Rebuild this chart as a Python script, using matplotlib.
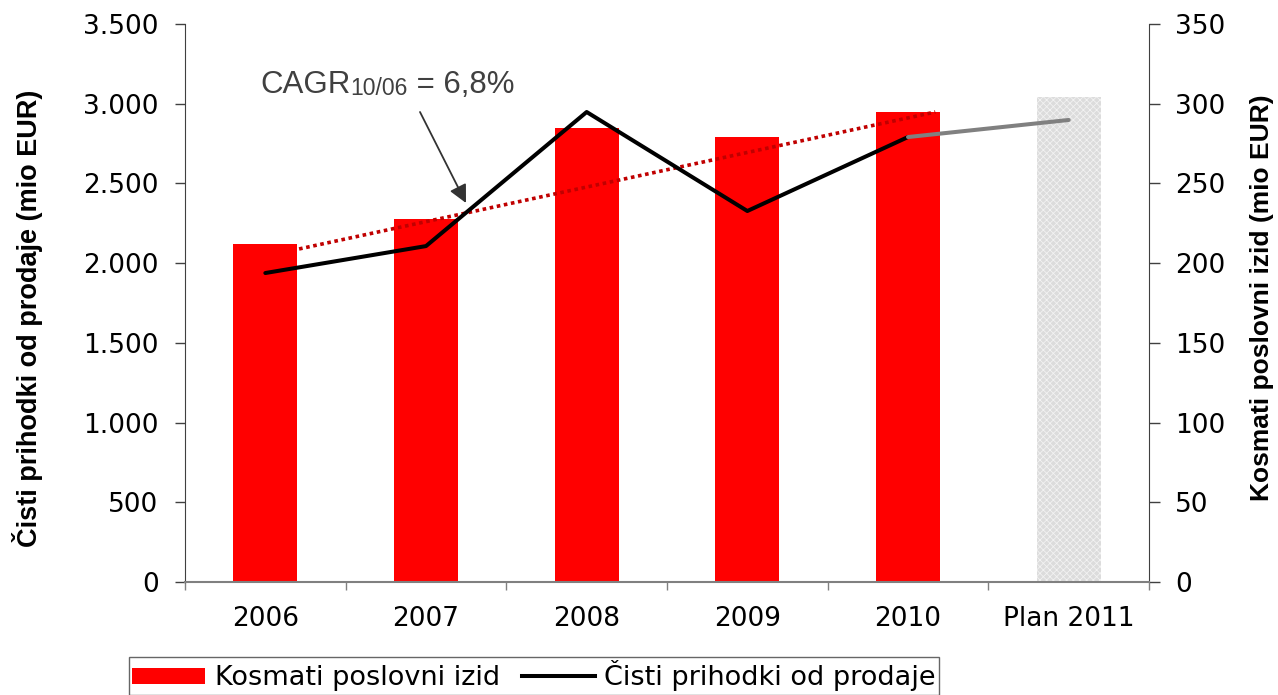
import matplotlib
matplotlib.use('Agg')
import matplotlib.pyplot as plt
import numpy as np
from matplotlib.patches import Patch
from matplotlib.lines import Line2D

# ---------------- data ----------------
categories = ['2006', '2007', '2008', '2009', '2010', 'Plan 2011']
kosmati_izid = [212, 228, 285, 279, 295, 304]          # right axis (mio EUR)
cisti_prihodki = [1938, 2107, 2948, 2327, 2791, 2898]  # left axis (mio EUR)
trend_x = [0.21, 4.17]
trend_y = [2089, 2948]
left_ticks = [0, 500, 1000, 1500, 2000, 2500, 3000, 3500]
left_labels = ['0', '500', '1.000', '1.500', '2.000', '2.500', '3.000', '3.500']
right_ticks = [0, 50, 100, 150, 200, 250, 300, 350]
left_title = 'Čisti prihodki od prodaje (mio EUR)'
right_title = 'Kosmati poslovni izid (mio EUR)'
legend_labels = ['Kosmati poslovni izid', 'Čisti prihodki od prodaje']

plt.rcParams['font.family'] = ['DejaVu Sans']
plt.rcParams['hatch.color'] = '#f2f2f2'
plt.rcParams['hatch.linewidth'] = 0.6

W, H = 1278, 695
fig = plt.figure(figsize=(W / 100, H / 100), dpi=100)
ax = fig.add_axes([185 / W, 1 - 582 / H, (1149 - 185) / W, (582 - 24) / H])
ax2 = ax.twinx()
ax.set_zorder(ax2.get_zorder() + 1)
ax.patch.set_visible(False)

x = np.arange(len(categories))
colors = ['#ff0000'] * 5 + ['#dcdcdc']
bars = ax2.bar(x, kosmati_izid, width=0.4, color=colors, linewidth=0)
bars[5].set_hatch('xxxxx')
bars[5].set_edgecolor('#f2f2f2')
bars[5].set_linewidth(0)

# trend line
ax.plot(trend_x, trend_y, color='#c00000', lw=2.6, linestyle=(0, (1, 1.0)), zorder=2)
# main line
ax.plot(x[:5], cisti_prihodki[:5], color='black', lw=2.9, zorder=3, solid_capstyle='round')
ax.plot(x[4:], cisti_prihodki[4:], color='#808080', lw=2.9, zorder=3, solid_capstyle='round')

ax.set_xlim(-0.5, len(categories) - 0.5)
ax.set_ylim(0, 3500)
ax2.set_ylim(0, 350)

ax.set_yticks(left_ticks)
ax.set_yticklabels(left_labels)
ax2.set_yticks(right_ticks)
ax2.set_yticklabels([str(v) for v in right_ticks])

ax.set_xticks(np.arange(-0.5, len(categories), 1))
ax.set_xticklabels([])
ax.set_xticks(x, minor=True)
ax.set_xticklabels(categories, minor=True)
ax.tick_params(axis='x', which='major', length=6, width=1, color='#808080', labelbottom=False)
ax.tick_params(axis='x', which='minor', length=0, pad=17, labelsize=19)
ax.tick_params(axis='y', length=7, width=1, color='#404040', pad=12, labelsize=19)
ax2.tick_params(axis='y', length=8, width=1, color='#404040', pad=11, labelsize=19)

for s in ['top', 'right']:
    ax.spines[s].set_visible(False)
for s in ['top', 'left', 'bottom']:
    ax2.spines[s].set_visible(False)
ax.spines['left'].set_color('#404040')
ax.spines['bottom'].set_color('#808080')
ax.spines['bottom'].set_linewidth(1.5)
ax2.spines['right'].set_color('#404040')

fig.text(28 / W, 1 - 318 / H, left_title, rotation=90, ha='center', va='center',
         fontsize=19.5, fontweight='bold', family='Liberation Sans')
fig.text(1262 / W, 1 - 298 / H, right_title, rotation=90, ha='center', va='center',
         fontsize=19, fontweight='bold', family='Liberation Sans')

# CAGR annotation
t1 = fig.text(260 / W, 1 - 93 / H, 'CAGR', ha='left', va='baseline', fontsize=22.5,
              color='#404040', family='Liberation Sans')
t2 = ax.annotate('10/06', xy=(1, 0), xycoords=t1, ha='left', va='bottom', fontsize=16.5,
                 color='#404040', family='Liberation Sans')
t3 = ax.annotate(' = 6,8%', xy=(1, 0), xycoords=t2, ha='left', va='bottom', fontsize=22.5,
                 color='#404040', family='Liberation Sans')
ax.annotate('', xy=(466 / W, 1 - 203 / H), xycoords='figure fraction',
            xytext=(420 / W, 1 - 112 / H), textcoords='figure fraction',
            arrowprops=dict(arrowstyle='-|>,head_length=0.4,head_width=0.2',
                            color='#333333', lw=1.3, mutation_scale=27,
                            shrinkA=0, shrinkB=0))

handles = [Patch(facecolor='#ff0000', edgecolor='none'),
           Line2D([], [], color='black', lw=2.9)]
leg = fig.legend(handles, legend_labels, loc='upper left',
                 bbox_to_anchor=(129 / W, 1 - 657 / H), ncol=2, frameon=True,
                 fancybox=False, edgecolor='#404040', fontsize=19.5, handlelength=2.7,
                 handleheight=0.55, handletextpad=0.35, columnspacing=0.8,
                 borderpad=0.12, borderaxespad=0)
leg.get_frame().set_linewidth(1)

fig.savefig('out.png', dpi=100)
